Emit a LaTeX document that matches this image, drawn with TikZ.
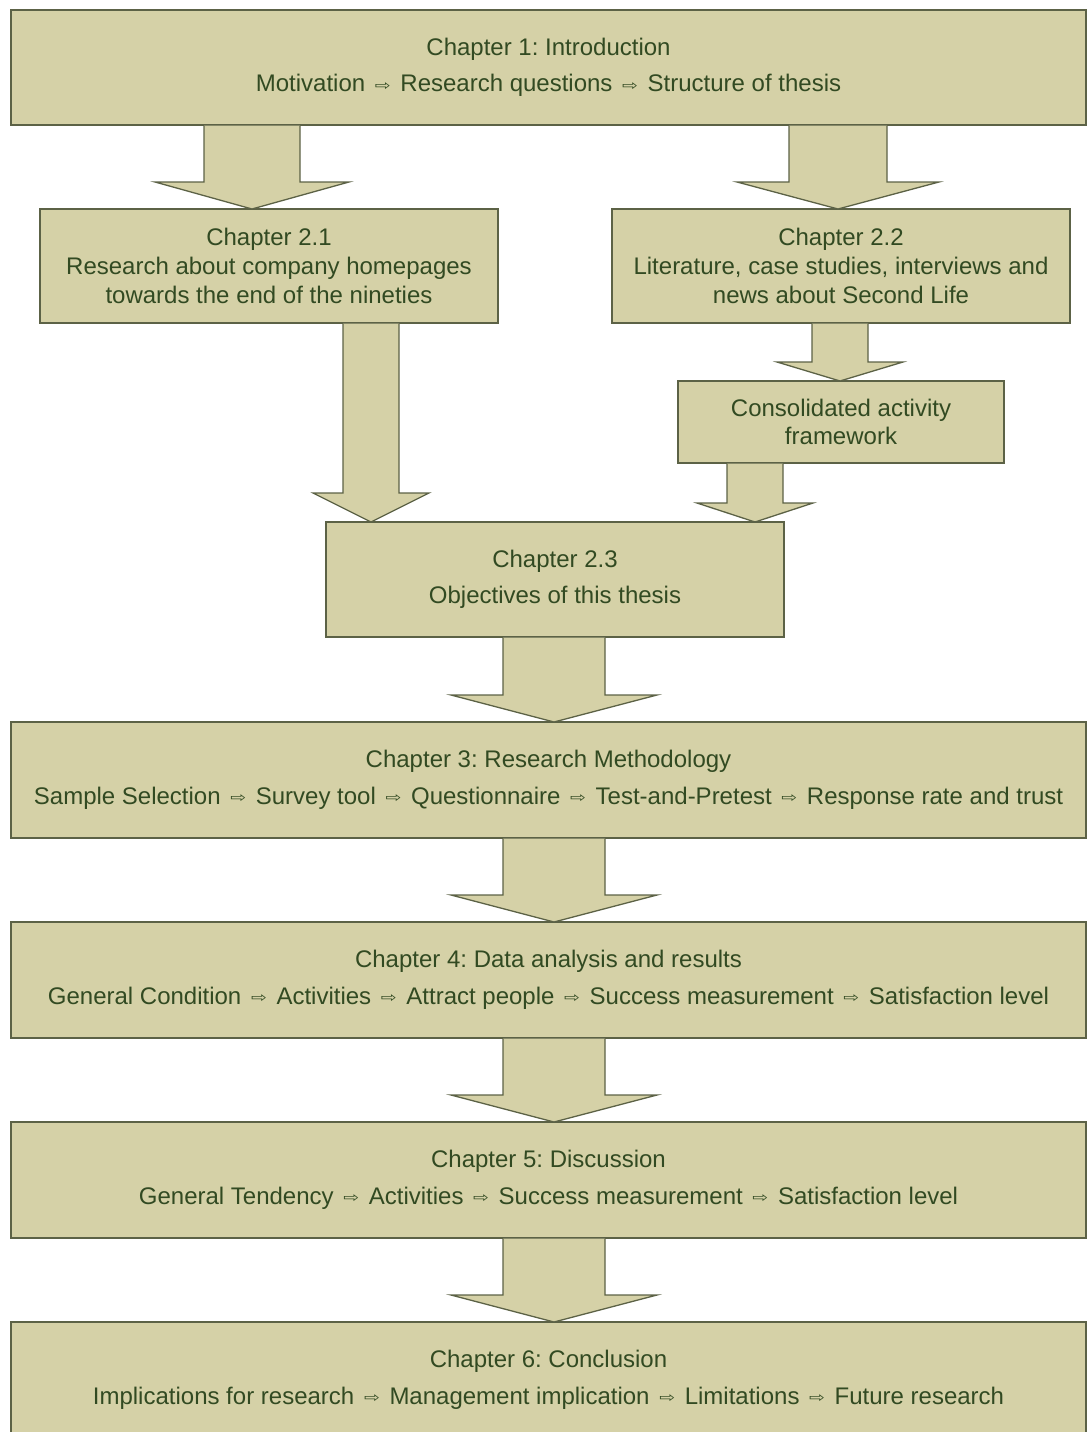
\documentclass[tikz,border=0pt]{standalone}
\usepackage{fontspec}
\setmainfont{Liberation Sans}
\newfontfamily\arrowfont{DejaVu Sans}
\usepackage{tikz}
\usetikzlibrary{calc}
\frenchspacing
\definecolor{BoxOlive}{RGB}{213,209,167}
\definecolor{LineOlive}{RGB}{92,98,70}
\definecolor{TextGreen}{RGB}{50,74,34}

% small hollow arrow between items
\newcommand{\nxt}{\hspace{3pt}{\arrowfont\fontsize{14}{14}\selectfont\raisebox{1.5pt}{\scalebox{1.35}[1]{⇨}}}\hspace{3pt}}

% block arrow: #1 source node, #2 tip, #3 shaft half width, #4 head half width, #5 head length
\newcommand{\blockarrow}[5]{%
  \draw[bigarrow] ($(#1.south -| #2)+(-#3,0)$) -- ($(#2)+(-#3,-#5)$)
    -- ($(#2)+(-#4,-#5)$) -- (#2) -- ($(#2)+(#4,-#5)$)
    -- ($(#2)+(#3,-#5)$) -- ($(#1.south -| #2)+(#3,0)$);
}

\begin{document}
\begin{tikzpicture}[
    x=1pt, y=-1pt,
    chapbox/.style={
        rectangle,
        draw=LineOlive,
        line width=1.3pt,
        fill=BoxOlive,
        text=TextGreen,
        align=center,
        inner sep=0pt,
        font=\fontsize{24}{36.5}\selectfont
    },
    widebox/.style={
        chapbox,
        minimum width=1075pt,
        minimum height=115pt
    },
    midbox/.style={
        chapbox,
        minimum width=458pt,
        minimum height=114pt,
        font=\fontsize{24}{29}\selectfont
    },
    bigarrow/.style={
        draw=LineOlive,
        line width=1.3pt,
        fill=BoxOlive,
        line join=miter
    }
]
\useasboundingbox (0,0) rectangle (1088,1432);

% arrow tips
\coordinate (tipa) at (252,209);
\coordinate (tipb) at (838,209);
\coordinate (tipc) at (371,522);
\coordinate (tipd) at (840,381);
\coordinate (tipe) at (755,522);
\coordinate (tipf) at (554,722);
\coordinate (tipg) at (554,922);
\coordinate (tiph) at (554,1122);
\coordinate (tipi) at (554,1322);

% boxes (placed first so the arrows can refer to them)
\node[widebox] (ch1) at (548.5,67.5)
{Chapter 1: Introduction\\Motivation \nxt{} Research questions \nxt{} Structure of thesis};

\node[midbox] (ch21) at (269,266)
{Chapter 2.1\\Research about company homepages\\towards the end of the nineties};
\node[midbox] (ch22) at (841,266)
{Chapter 2.2\\Literature, case studies, interviews and\\news about Second Life};

\node[chapbox, minimum width=326pt, minimum height=82pt, font=\fontsize{24}{28.5}\selectfont] (frame) at (841,422)
{Consolidated activity\\framework};

\node[midbox, minimum height=115pt, font=\fontsize{24}{36.5}\selectfont] (ch23) at (555,579.5)
{Chapter 2.3\\Objectives of this thesis};

\node[widebox, minimum height=116pt] (ch3) at (548.5,780)
{Chapter 3: Research Methodology\\Sample Selection \nxt{} Survey tool \nxt{} Questionnaire \nxt{} Test-and-Pretest \nxt{} Response rate and trust};
\node[widebox, minimum height=116pt] (ch4) at (548.5,980)
{Chapter 4: Data analysis and results\\General Condition \nxt{} Activities \nxt{} Attract people \nxt{} Success measurement \nxt{} Satisfaction level};
\node[widebox, minimum height=116pt] (ch5) at (548.5,1180)
{Chapter 5: Discussion\\General Tendency \nxt{} Activities \nxt{} Success measurement \nxt{} Satisfaction level};
\node[widebox, minimum height=116pt] (ch6) at (548.5,1380)
{Chapter 6: Conclusion\\Implications for research \nxt{} Management implication \nxt{} Limitations \nxt{} Future research};

% block arrows
\blockarrow{ch1}{tipa}{48}{97}{27}
\blockarrow{ch1}{tipb}{49}{101}{27}
\blockarrow{ch21}{tipc}{28}{58}{29}
\blockarrow{ch22}{tipd}{28}{63}{19}
\blockarrow{frame}{tipe}{28}{58}{19}
\blockarrow{ch23}{tipf}{51}{103}{27}
\blockarrow{ch3}{tipg}{51}{103}{27}
\blockarrow{ch4}{tiph}{51}{103}{27}
\blockarrow{ch5}{tipi}{51}{103}{27}

\end{tikzpicture}
\end{document}
